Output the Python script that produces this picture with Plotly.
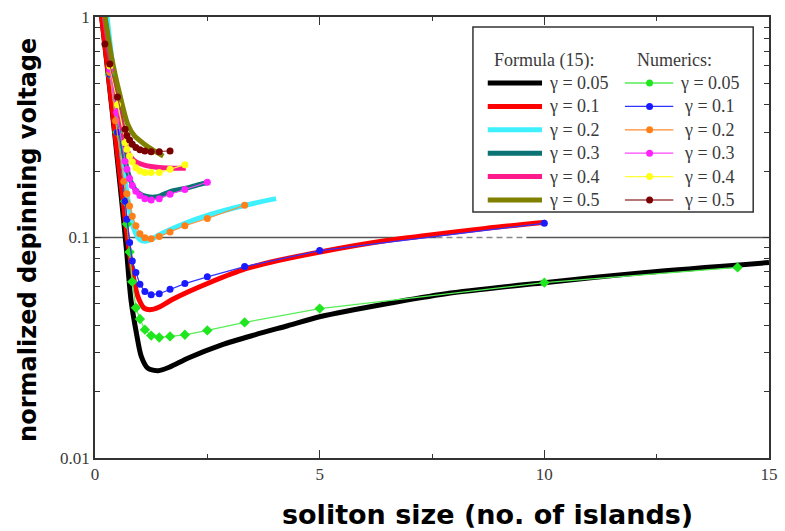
import plotly.graph_objects as go

# ---------------------------------------------------------------- data
gammas = ["0.05", "0.1", "0.2", "0.3", "0.4", "0.5"]

# Formula (15): depinning voltage vs soliton size, one curve per gamma
formula_x = [
    [0.13, 0.30, 0.45, 0.59, 0.70, 0.80, 0.92, 1.03, 1.17, 1.41, 1.65, 2.09, 2.82,
     3.56, 4.29, 5.02, 6.49, 7.81, 10.0, 12.2, 15.0],
    [0.13, 0.30, 0.45, 0.62, 0.72, 0.84, 0.95, 1.10, 1.25, 1.43, 1.72, 2.09, 2.53,
     3.34, 4.07, 5.01, 6.49, 7.37, 8.69, 10.03],
    [0.25, 0.40, 0.51, 0.62, 0.73, 0.84, 0.99, 1.10, 1.25, 1.43, 2.02, 2.45, 3.34, 4.03],
    [0.20, 0.35, 0.50, 0.65, 0.81, 0.95, 1.17, 1.39, 1.69, 2.05, 2.42, 2.50],
    [0.18, 0.35, 0.50, 0.62, 0.73, 0.85, 0.95, 1.10, 1.25, 1.50, 1.75, 2.02],
    [0.20, 0.37, 0.55, 0.73, 0.88, 1.10, 1.32, 1.52],
]
formula_v = [
    [1.08, 0.53, 0.28, 0.149, 0.088, 0.0523, 0.037, 0.0289, 0.0256, 0.0249, 0.0258,
     0.0285, 0.0326, 0.0362, 0.0398, 0.0438, 0.0501, 0.0556, 0.0624, 0.0693, 0.0770],
    [1.08, 0.54, 0.29, 0.149, 0.100, 0.0689, 0.0542, 0.0477, 0.0471, 0.0484, 0.0523,
     0.0569, 0.0622, 0.0720, 0.0786, 0.0860, 0.0969, 0.102, 0.110, 0.1174],
    [1.08, 0.58, 0.38, 0.22, 0.15, 0.113, 0.098, 0.0961, 0.098, 0.103, 0.1164, 0.125,
     0.140, 0.150],
    [1.08, 0.62, 0.40, 0.235, 0.177, 0.160, 0.153, 0.153, 0.162, 0.168, 0.176, 0.177],
    [1.08, 0.64, 0.43, 0.31, 0.245, 0.225, 0.218, 0.213, 0.210, 0.207, 0.206, 0.206],
    [1.08, 0.656, 0.447, 0.326, 0.289, 0.265, 0.247, 0.234],
]

# Numerics: simulated depinning voltage, one series per gamma
numerics_x = [
    [0.33, 0.5, 0.67, 0.71, 0.77, 0.83, 0.91, 1.0, 1.11, 1.25, 1.43, 1.67, 2.0, 2.5,
     3.33, 5.0, 10.0, 14.3],
    [0.33, 0.5, 0.67, 0.71, 0.77, 0.83, 0.91, 1.0, 1.11, 1.25, 1.43, 1.67, 2.0, 2.5,
     3.33, 5.0, 10.0],
    [0.33, 0.46, 0.64, 0.71, 0.77, 0.83, 0.91, 1.0, 1.11, 1.25, 1.43, 1.67, 2.0, 2.5, 3.33],
    [0.33, 0.48, 0.67, 0.71, 0.77, 0.83, 0.91, 1.0, 1.11, 1.25, 1.43, 1.67, 2.0, 2.5],
    [0.33, 0.5, 0.67, 0.71, 0.77, 0.83, 0.91, 1.0, 1.11, 1.25, 1.43, 1.67, 2.0],
    [0.22, 0.33, 0.5, 0.67, 0.71, 0.77, 0.83, 0.91, 1.0, 1.11, 1.25, 1.43, 1.67],
]
numerics_v = [
    [0.55, 0.30, 0.146, 0.115, 0.086, 0.063, 0.048, 0.0427, 0.0382, 0.0359, 0.0352,
     0.0356, 0.0362, 0.0379, 0.0412, 0.0476, 0.0624, 0.0732],
    [0.55, 0.30, 0.146, 0.121, 0.095, 0.0783, 0.0694, 0.0613, 0.0569, 0.0550, 0.0556,
     0.0582, 0.0618, 0.0663, 0.0738, 0.0872, 0.116],
    [0.56, 0.338, 0.180, 0.158, 0.139, 0.125, 0.113, 0.104, 0.0997, 0.0987, 0.101,
     0.106, 0.113, 0.122, 0.140],
    [0.58, 0.369, 0.222, 0.204, 0.185, 0.172, 0.162, 0.155, 0.150, 0.148, 0.150, 0.157,
     0.165, 0.178],
    [0.60, 0.40, 0.269, 0.251, 0.234, 0.220, 0.207, 0.200, 0.197, 0.197, 0.197, 0.204,
     0.214],
    [0.754, 0.612, 0.434, 0.31, 0.29, 0.277, 0.265, 0.256, 0.250, 0.247, 0.245, 0.245,
     0.247],
]

x_tick_vals = [0, 5, 10, 15]
x_tick_text = ["0", "5", "10", "15"]
x_minor_vals = [2.5, 7.5, 12.5]
y_tick_vals = [0.01, 0.1, 1]
y_tick_text = ["0.01", "0.1", "1"]
y_minor_vals = [0.02, 0.03, 0.04, 0.05, 0.06, 0.07, 0.08, 0.09,
                0.2, 0.3, 0.4, 0.5, 0.6, 0.7, 0.8, 0.9]
ref_level = 0.1

# ---------------------------------------------------------------- styles
formula_colors = ["#000000", "#ff0000", "#3ff0ff", "#0b7373", "#ff1a8c", "#7f7f00"]
numerics_marker_colors = ["#1fe61f", "#1a1aff", "#ff8019", "#ff22ff", "#ffff14", "#7a0000"]
numerics_line_colors = ["#55ee55", "#3333ff", "#ff8c33", "#ff44ff", "#ffff33", "#a04848"]
numerics_symbols = ["diamond", "circle", "circle", "circle", "circle", "circle"]

W, H = 785, 531
ML, MR, MT, MB = 95, 7, 17, 73
PW, PH = W - ML - MR, H - MT - MB

SERIF = "Liberation Serif, Times New Roman, serif"
SANS = "DejaVu Sans, Arial, sans-serif"
TEXT_GREY = "#3a3a3a"


def fx(px):
    """Horizontal pixel position -> paper fraction of the plot area."""
    return (px - ML) / PW


def fy(py):
    """Vertical pixel position -> paper fraction of the plot area."""
    return (MT + PH - py) / PH


fig = go.Figure()

# horizontal reference line at 0.1 (partly dashed)
fig.add_trace(go.Scatter(x=[0, 7.6], y=[ref_level, ref_level], mode="lines",
                         line=dict(color="#555555", width=1.5),
                         showlegend=False, hoverinfo="skip"))
fig.add_trace(go.Scatter(x=[7.6, 9.6], y=[ref_level, ref_level], mode="lines",
                         line=dict(color="#888888", width=1.5, dash="6px,4px"),
                         showlegend=False, hoverinfo="skip"))
fig.add_trace(go.Scatter(x=[9.6, 15], y=[ref_level, ref_level], mode="lines",
                         line=dict(color="#555555", width=1.5),
                         showlegend=False, hoverinfo="skip"))

# thick formula curves
for i, g in enumerate(gammas):
    fig.add_trace(go.Scatter(
        x=formula_x[i], y=formula_v[i], mode="lines",
        line=dict(color=formula_colors[i], width=5, shape="spline", smoothing=0.8),
        name=f"Formula γ = {g}", showlegend=False))

# numerics: thin lines with dots
for i, g in enumerate(gammas):
    fig.add_trace(go.Scatter(
        x=numerics_x[i], y=numerics_v[i], mode="lines+markers",
        line=dict(color=numerics_line_colors[i], width=1.2),
        marker=dict(color=numerics_marker_colors[i], size=8 if i == 0 else 7,
                    symbol=numerics_symbols[i], line=dict(width=0)),
        name=f"Numerics γ = {g}", showlegend=False))

# ---------------------------------------------------------------- legend box
shapes = []
annotations = []
box_l, box_r, box_t, box_b = 478, 762, 27, 212
shapes.append(dict(type="rect", xref="paper", yref="paper",
                   x0=fx(box_l), x1=fx(box_r), y0=fy(box_b), y1=fy(box_t),
                   line=dict(color="#333333", width=1.5), fillcolor="white",
                   layer="above"))
annotations.append(dict(xref="paper", yref="paper", x=fx(497), y=fy(60),
                        xanchor="left", yanchor="middle", showarrow=False,
                        text="Formula (15):", font=dict(family=SERIF, size=18, color=TEXT_GREY)))
annotations.append(dict(xref="paper", yref="paper", x=fx(642), y=fy(60),
                        xanchor="left", yanchor="middle", showarrow=False,
                        text="Numerics:", font=dict(family=SERIF, size=18, color=TEXT_GREY)))

row0, row_step = 83, 23.4
for i, g in enumerate(gammas):
    ry = row0 + i * row_step
    shapes.append(dict(type="line", xref="paper", yref="paper",
                       x0=fx(493), x1=fx(548), y0=fy(ry), y1=fy(ry),
                       line=dict(color=formula_colors[i], width=5), layer="above"))
    annotations.append(dict(xref="paper", yref="paper", x=fx(553), y=fy(ry),
                            xanchor="left", yanchor="middle", showarrow=False,
                            text=f"γ = {g}",
                            font=dict(family=SERIF, size=18, color=TEXT_GREY)))
    shapes.append(dict(type="line", xref="paper", yref="paper",
                       x0=fx(632), x1=fx(681), y0=fy(ry), y1=fy(ry),
                       line=dict(color=numerics_line_colors[i], width=1.3), layer="above"))
    r = 3.5
    shapes.append(dict(type="circle", xref="paper", yref="paper",
                       x0=fx(657 - r), x1=fx(657 + r), y0=fy(ry + r), y1=fy(ry - r),
                       line=dict(width=0), fillcolor=numerics_marker_colors[i],
                       layer="above"))
    annotations.append(dict(xref="paper", yref="paper", x=fx(718), y=fy(ry),
                            xanchor="center", yanchor="middle", showarrow=False,
                            text=f"γ = {g}",
                            font=dict(family=SERIF, size=18, color=TEXT_GREY)))

# axis titles
annotations.append(dict(xref="paper", yref="paper", x=fx(493), y=fy(514),
                        xanchor="center", yanchor="middle", showarrow=False,
                        text="soliton size (no. of islands)",
                        font=dict(family=SANS, size=27, color="#000000", weight="bold")))
annotations.append(dict(xref="paper", yref="paper", x=fx(27), y=fy(240),
                        xanchor="center", yanchor="middle", showarrow=False,
                        textangle=-90, text="normalized depinning voltage",
                        font=dict(family=SANS, size=24, color="#000000", weight="bold")))

fig.update_layout(
    width=W, height=H,
    margin=dict(l=ML, r=MR, t=MT, b=MB, pad=0),
    paper_bgcolor="white", plot_bgcolor="white",
    showlegend=False,
    shapes=shapes, annotations=annotations,
    xaxis=dict(range=[0, 15], tickvals=x_tick_vals, ticktext=x_tick_text,
               ticks="inside", ticklen=8, tickwidth=1.3, tickcolor="#333333",
               minor=dict(tickvals=x_minor_vals, ticks="inside", ticklen=4,
                          tickwidth=1.3, tickcolor="#333333", showgrid=False),
               showline=True, linecolor="#333333", linewidth=1.5, mirror="allticks",
               showgrid=False, zeroline=False,
               tickfont=dict(family=SERIF, size=17, color=TEXT_GREY)),
    yaxis=dict(type="log", range=[-2, 0], tickvals=y_tick_vals, ticktext=y_tick_text,
               ticks="inside", ticklen=6, tickwidth=1.3, tickcolor="#333333",
               minor=dict(tickvals=y_minor_vals, ticks="inside", ticklen=5,
                          tickwidth=1.3, tickcolor="#333333", showgrid=False),
               showline=True, linecolor="#333333", linewidth=1.5, mirror="allticks",
               showgrid=False, zeroline=False,
               tickfont=dict(family=SERIF, size=17, color=TEXT_GREY)),
)

fig.write_html("out.html")
